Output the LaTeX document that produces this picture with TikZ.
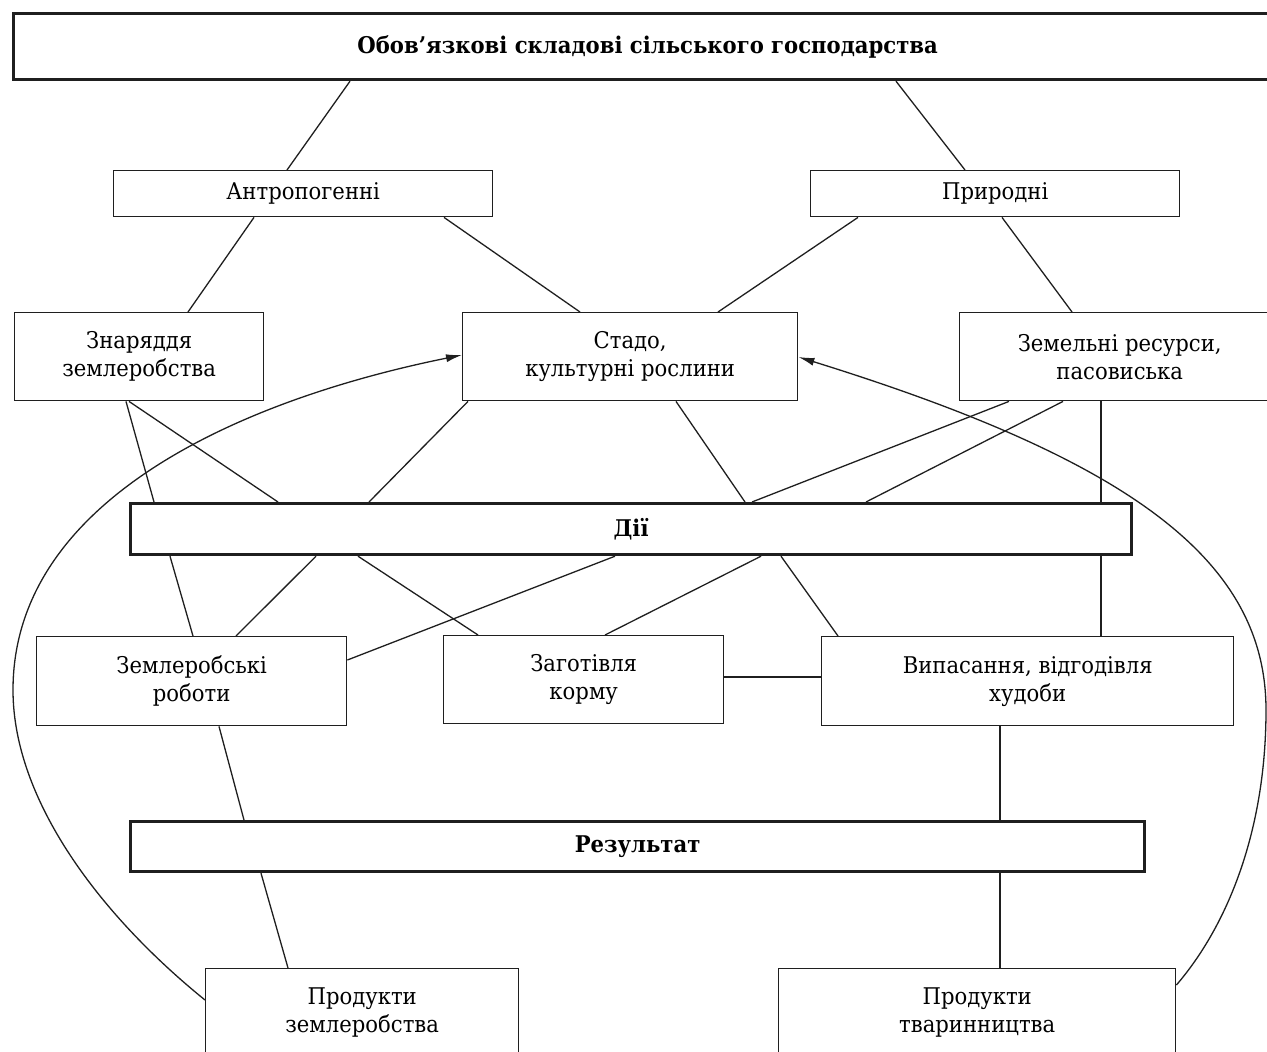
\documentclass[tikz,border=0pt]{standalone}
\usepackage{fontspec}
\setmainfont{DejaVu Serif}[FakeStretch=0.92]
\usetikzlibrary{arrows.meta}
\begin{document}
\begin{tikzpicture}[x=1pt,y=-1pt,
  box/.style={draw=black!88, line width=1.4pt, rectangle, anchor=north west, align=center, inner sep=0pt, font=\fontsize{23}{28}\selectfont},
  thickbox/.style={box, line width=3.2pt, font=\fontsize{23}{28}\selectfont\bfseries},
  link/.style={draw=black!88, line width=1.3pt},
  back/.style={link, -{Latex[length=16pt,width=8pt]}}]
\useasboundingbox (0,0) rectangle (1267,1052);
\clip (0,0) rectangle (1267,1052);
% nodes
\node[thickbox, minimum width=1268pt, minimum height=66pt] (top) at (12,12) {Обов’язкові складові сільського господарства};
\node[box, minimum width=379pt, minimum height=46pt] (antr) at (113,170) {Антропогенні};
\node[box, minimum width=369pt, minimum height=46pt] (prir) at (810,170) {Природні};
\node[box, minimum width=249pt, minimum height=88pt] (znar) at (14,312) {Знаряддя\\землеробства};
\node[box, minimum width=335pt, minimum height=88pt] (stado) at (462,312) {Стадо,\\культурні рослини};
\node[box, minimum width=320pt, minimum height=88pt] (zem) at (959,312) {Земельні ресурси,\\пасовиська};
\node[thickbox, minimum width=1001pt, minimum height=51pt] (dii) at (129,502) {Дії};
\node[box, minimum width=310pt, minimum height=89pt] (zrob) at (36,636) {Землеробські\\роботи};
\node[box, minimum width=280pt, minimum height=88pt] (zag) at (443,635) {Заготівля\\корму};
\node[box, minimum width=412pt, minimum height=89pt] (vyp) at (821,636) {Випасання, відгодівля\\худоби};
\node[thickbox, minimum width=1014pt, minimum height=50pt] (rez) at (129,820) {Результат};
\node[box, minimum width=313pt, minimum height=88pt] (pzem) at (205,968) {Продукти\\землеробства};
\node[box, minimum width=397pt, minimum height=88pt] (ptv) at (778,968) {Продукти\\тваринництва};
% connectors
\draw[link] ([xshift=338pt]top.south west) -- ([xshift=174pt]antr.north west);
\draw[link] ([xshift=884pt]top.south west) -- ([xshift=155pt]prir.north west);
\draw[link] ([xshift=141pt]antr.south west) -- ([xshift=174pt]znar.north west);
\draw[link] ([xshift=331pt]antr.south west) -- ([xshift=118pt]stado.north west);
\draw[link] ([xshift=48pt]prir.south west) -- ([xshift=256pt]stado.north west);
\draw[link] ([xshift=192pt]prir.south west) -- ([xshift=113pt]zem.north west);
\draw[link] ([xshift=112pt]znar.south west) -- ([xshift=25pt]dii.north west);
\draw[link] ([xshift=115pt]znar.south west) -- ([xshift=149pt]dii.north west);
\draw[link] ([xshift=6pt]stado.south west) -- ([xshift=240pt]dii.north west);
\draw[link] ([xshift=214pt]stado.south west) -- ([xshift=616pt]dii.north west);
\draw[link] ([xshift=50pt]zem.south west) -- ([xshift=623pt]dii.north west);
\draw[link] ([xshift=104pt]zem.south west) -- ([xshift=737pt]dii.north west);
\draw[link] ([xshift=142pt]zem.south west) -- ([xshift=972pt]dii.north west);
\draw[link] ([xshift=972pt]dii.south west) -- ([xshift=280pt]vyp.north west);
\draw[link] ([xshift=41pt]dii.south west) -- ([xshift=157pt]zrob.north west);
\draw[link] ([xshift=187pt]dii.south west) -- ([xshift=200pt]zrob.north west);
\draw[link] ([xshift=229pt]dii.south west) -- ([xshift=35pt]zag.north west);
\draw[link] ([xshift=486pt]dii.south west) -- ([yshift=-24pt]zrob.north east);
\draw[link] ([xshift=632pt]dii.south west) -- ([xshift=162pt]zag.north west);
\draw[link] ([xshift=652pt]dii.south west) -- ([xshift=17pt]vyp.north west);
\draw[link] ([yshift=-42pt]zag.north east) -- ([yshift=-41pt]vyp.north west);
\draw[link] ([xshift=183pt]zrob.south west) -- ([xshift=115pt]rez.north west);
\draw[link] ([xshift=179pt]vyp.south west) -- ([xshift=871pt]rez.north west);
\draw[link] ([xshift=871pt]rez.south west) -- ([xshift=222pt]ptv.north west);
\draw[link] ([xshift=132pt]rez.south west) -- ([xshift=83pt]pzem.north west);
% feedback curves
\coordinate (lmid) at (13,690);
\coordinate (rmid) at (1266,710);
\draw[back] ([yshift=-32pt]pzem.north west) .. controls (100,915) and (13,800) .. (lmid)
  .. controls (13,500) and (240,400) .. ([yshift=-43pt]stado.north west);
\draw[back] ([yshift=-17pt]ptv.north east) .. controls (1228,925) and (1266,830) .. (rmid)
  .. controls (1266,560) and (1130,460) .. ([yshift=-45pt]stado.north east);
\end{tikzpicture}
\end{document}
